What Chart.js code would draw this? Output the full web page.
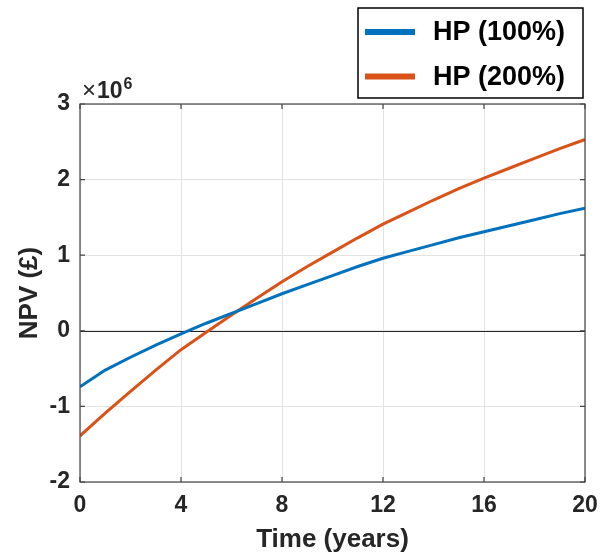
<!DOCTYPE html>
<html>
<head>
<meta charset="utf-8">
<script src="https://cdn.jsdelivr.net/npm/chart.js@4"></script>
<style>
  html, body { margin: 0; padding: 0; background: #fff; }
  #wrap { width: 608px; height: 555px; }
</style>
</head>
<body>
<div id="wrap"><canvas id="myChart"></canvas></div>
<script>
// years on x axis
var years = [0,1,2,3,4,5,6,7,8,9,10,11,12,13,14,15,16,17,18,19,20];
// NPV in pounds (units of 1e6)
var hp100 = [-0.74,-0.52,-0.35,-0.19,-0.04,0.10,0.23,0.36,0.49,0.61,0.73,0.85,0.96,1.05,1.14,1.23,1.31,1.39,1.47,1.55,1.62];
var hp200 = [-1.39,-1.09,-0.80,-0.52,-0.25,-0.02,0.21,0.43,0.65,0.85,1.04,1.23,1.41,1.57,1.73,1.88,2.02,2.15,2.28,2.41,2.53];
var seriesNames = ["HP (100%)", "HP (200%)"];
var seriesColors = ["#0072BD", "#D95319"];
var xTicks = [0, 4, 8, 12, 16, 20];
var yTicks = [-2, -1, 0, 1, 2, 3];
var SCALE = 1e6;

function toPoints(vals) {
  return vals.map(function (v, i) { return { x: years[i], y: v * SCALE }; });
}

var FONT = "'Liberation Sans', Arial, sans-serif";
var INK = "#262626";

// box, inner ticks, zero line, exponent label and the legend, matlab style
var matlabBits = {
  id: "matlabBits",
  beforeDatasetsDraw: function (chart) {
    var ctx = chart.ctx, a = chart.chartArea;
    var y0 = chart.scales.y.getPixelForValue(0);
    ctx.save();
    ctx.strokeStyle = INK;
    ctx.lineWidth = 1;
    ctx.beginPath();
    ctx.moveTo(a.left, Math.round(y0) + 0.5);
    ctx.lineTo(a.right, Math.round(y0) + 0.5);
    ctx.stroke();
    ctx.restore();
  },
  afterDraw: function (chart) {
    var ctx = chart.ctx, a = chart.chartArea;
    var xs = chart.scales.x, ys = chart.scales.y;
    ctx.save();
    // axes box
    ctx.strokeStyle = "#444";
    ctx.lineWidth = 1.2;
    ctx.strokeRect(a.left, a.top, a.right - a.left, a.bottom - a.top);
    // inward ticks
    ctx.beginPath();
    xTicks.forEach(function (t) {
      var px = xs.getPixelForValue(t);
      ctx.moveTo(px, a.bottom); ctx.lineTo(px, a.bottom - 5);
      ctx.moveTo(px, a.top); ctx.lineTo(px, a.top + 5);
    });
    yTicks.forEach(function (t) {
      var py = ys.getPixelForValue(t * SCALE);
      ctx.moveTo(a.left, py); ctx.lineTo(a.left + 5, py);
      ctx.moveTo(a.right, py); ctx.lineTo(a.right - 5, py);
    });
    ctx.stroke();

    // x10^6
    ctx.fillStyle = INK;
    ctx.textBaseline = "alphabetic";
    ctx.textAlign = "left";
    ctx.font = "24px " + FONT;
    ctx.fillText("\u00d7", a.left + 2, a.top - 6);
    var w1 = ctx.measureText("\u00d7").width;
    ctx.font = "bold 23px " + FONT;
    ctx.fillText("10", a.left + 3 + w1, a.top - 6);
    var w2 = ctx.measureText("10").width;
    ctx.font = "bold 16px " + FONT;
    ctx.fillText("6", a.left + 4 + w1 + w2, a.top - 15);

    // legend
    var bx = 358, by = 8, bw = 225, bh = 90;
    ctx.fillStyle = "#fff";
    ctx.fillRect(bx, by, bw, bh);
    ctx.strokeStyle = "#000";
    ctx.lineWidth = 1.5;
    ctx.strokeRect(bx, by, bw, bh);
    ctx.font = "bold 27px " + FONT;
    ctx.textBaseline = "middle";
    chart.data.datasets.forEach(function (ds, i) {
      var ly = 32 + i * 44.5;
      ctx.strokeStyle = ds.borderColor;
      ctx.lineWidth = 6;
      ctx.beginPath();
      ctx.moveTo(bx + 7, ly);
      ctx.lineTo(bx + 57, ly);
      ctx.stroke();
      ctx.fillStyle = "#000";
      ctx.fillText(ds.label, 433, ly + 1);
    });
    ctx.restore();
  }
};

var ctx = document.getElementById("myChart").getContext("2d");
var myChart = new Chart(ctx, {
  type: "line",
  data: {
    datasets: [
      {
        label: seriesNames[0],
        data: toPoints(hp100),
        borderColor: seriesColors[0],
        borderWidth: 3,
        pointRadius: 0,
        tension: 0,
        fill: false
      },
      {
        label: seriesNames[1],
        data: toPoints(hp200),
        borderColor: seriesColors[1],
        borderWidth: 3,
        pointRadius: 0,
        tension: 0,
        fill: false
      }
    ]
  },
  options: {
    responsive: true,
    maintainAspectRatio: false,
    animation: false,
    layout: { padding: { top: 104, right: 23, left: 0, bottom: 0 } },
    plugins: {
      legend: { display: false },
      tooltip: { enabled: false }
    },
    scales: {
      x: {
        type: "linear",
        min: 0,
        max: 20,
        afterBuildTicks: function (axis) {
          axis.ticks = xTicks.map(function (v) { return { value: v }; });
        },
        afterFit: function (axis) { axis.height = 73; },
        grid: { color: "#e3e3e3", drawTicks: false, lineWidth: 1 },
        border: { display: false },
        ticks: {
          color: INK,
          padding: 10,
          maxRotation: 0,
          font: { family: FONT, size: 23, weight: "bold" }
        },
        title: {
          display: true,
          text: "Time (years)",
          color: INK,
          padding: { top: 4, bottom: 0 },
          font: { family: FONT, size: 26, weight: "bold" }
        }
      },
      y: {
        type: "linear",
        min: -2 * SCALE,
        max: 3 * SCALE,
        afterBuildTicks: function (axis) {
          axis.ticks = yTicks.map(function (v) { return { value: v * SCALE }; });
        },
        afterFit: function (axis) { axis.width = 80; },
        grid: { color: "#e3e3e3", drawTicks: false, lineWidth: 1 },
        border: { display: false },
        ticks: {
          color: INK,
          padding: 10,
          font: { family: FONT, size: 23, weight: "bold" },
          callback: function (value) { return Math.round(value / SCALE); }
        },
        title: {
          display: true,
          text: "NPV (\u00a3)",
          color: INK,
          padding: { top: 14, bottom: 0 },
          font: { family: FONT, size: 26, weight: "bold" }
        }
      }
    }
  },
  plugins: [matlabBits]
});
</script>
</body>
</html>
